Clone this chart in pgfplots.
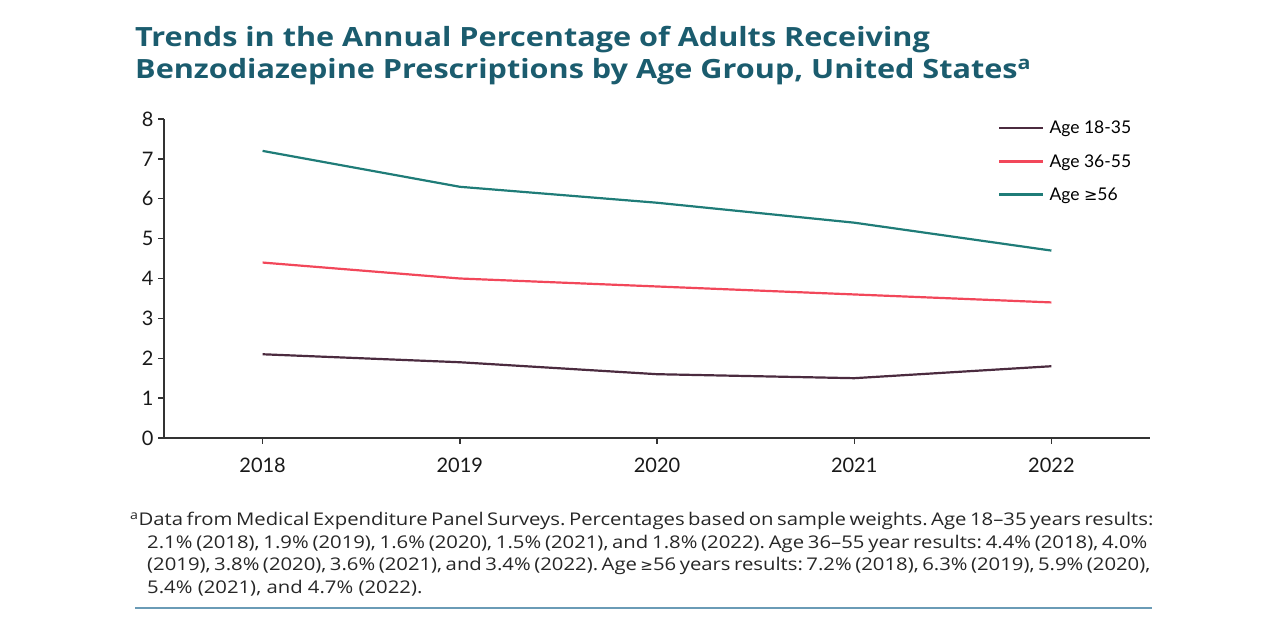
\documentclass[border=0pt]{standalone}
\usepackage{pgfplots}
\pgfplotsset{compat=1.18}
\usepackage{fontspec}
\setmainfont{Lato}
\newfontfamily\titlefont[FakeStretch=1.155]{Open Sans}
\newfontfamily\notefont[FakeStretch=1.16]{Open Sans}
\newfontfamily\symfont{DejaVu Sans}
\frenchspacing

\definecolor{titleblue}{HTML}{1B5C6E}
\definecolor{youngcol}{HTML}{4B2B3F}
\definecolor{midcol}{HTML}{F2475A}
\definecolor{oldcol}{HTML}{1F7C78}
\definecolor{axiscol}{HTML}{333333}
\definecolor{rulecol}{HTML}{6A9BB6}

\begin{document}
\begin{tikzpicture}[x=1pt,y=1pt]
\useasboundingbox (0,0) rectangle (1280,640);

% title
\node[anchor=base west, inner sep=0pt, text=titleblue,
      font=\titlefont\fontsize{26.5}{30}\selectfont\bfseries] at (135,593)
  {Trends in the Annual Percentage of Adults Receiving};
\node[anchor=base west, inner sep=0pt, text=titleblue,
      font=\titlefont\fontsize{26.5}{30}\selectfont\bfseries] at (135,561.5)
  {Benzodiazepine Prescriptions by Age Group, United States\textsuperscript{a}};

\begin{axis}[
  at={(164pt,202pt)}, anchor=south west,
  scale only axis, width=986pt, height=319pt,
  xmin=2017.5, xmax=2022.5, ymin=0, ymax=8,
  axis x line*=bottom, axis y line*=left,
  axis line style={axiscol, line width=1.4pt},
  xtick={2018,2019,2020,2021,2022},
  ytick={0,1,2,3,4,5,6,7,8},
  tick align=outside,
  major tick length=6pt,
  tick style={axiscol, line width=1.4pt},
  /pgf/number format/1000 sep={},
  /pgf/number format/assume math mode=true,
  tick label style={font=\fontsize{20}{22}\selectfont, text=black!90},
  xticklabel style={yshift=-10pt},
  yticklabel style={xshift=-1pt},
  legend style={at={(0.846,1.0)}, anchor=north west, draw=none, fill=none,
    font=\fontsize{17.5}{20}\selectfont, row sep=15pt, inner sep=0pt,
    legend cell align=left,
    nodes={inner xsep=5pt}},
  legend image code/.code={\draw[#1] (0pt,0pt) -- (44pt,0pt);},
  every axis plot/.append style={line width=2.2pt},
]
\addplot[youngcol] coordinates {(2018,2.1) (2019,1.9) (2020,1.6) (2021,1.5) (2022,1.8)};
\addlegendentry{Age 18-35}
\addplot[midcol] coordinates {(2018,4.4) (2019,4.0) (2020,3.8) (2021,3.6) (2022,3.4)};
\addlegendentry{Age 36-55}
\addplot[oldcol] coordinates {(2018,7.2) (2019,6.3) (2020,5.9) (2021,5.4) (2022,4.7)};
\addlegendentry{Age {\symfont\fontsize{16}{20}\selectfont ≥}56}
\end{axis}

% footnote
\begin{scope}[every node/.style={anchor=base west, inner sep=0pt, text=black!85,
      font=\notefont\fontsize{17.5}{22}\selectfont}]
\node at (130,114) {\makebox[1018pt][s]{\textsuperscript{a}Data from Medical Expenditure Panel Surveys. Percentages based on sample weights. Age 18–35 years results:}};
\node at (147,91.5) {\makebox[1000pt][s]{2.1\% (2018), 1.9\% (2019), 1.6\% (2020), 1.5\% (2021), and 1.8\% (2022). Age 36–55 year results: 4.4\% (2018), 4.0\%}};
\node at (147,69) {\makebox[1001pt][s]{(2019), 3.8\% (2020), 3.6\% (2021), and 3.4\% (2022). Age {\symfont\fontsize{15}{22}\selectfont ≥}56 years results: 7.2\% (2018), 6.3\% (2019), 5.9\% (2020),}};
\node at (147,46) {5.4\% (2021), and 4.7\% (2022).};
\end{scope}
\draw[rulecol, line width=2pt] (135,32) -- (1152,32);
\end{tikzpicture}
\end{document}
